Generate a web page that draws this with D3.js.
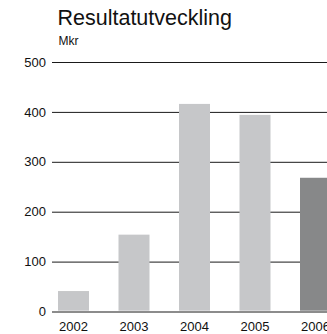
<!DOCTYPE html>
<html>
<head>
<meta charset="utf-8">
<script src="https://cdn.jsdelivr.net/npm/d3@7"></script>
<style>
  html, body { margin: 0; padding: 0; background: #fff; }
  svg { display: block; font-family: "Liberation Sans", Arial, Helvetica, sans-serif; }
</style>
</head>
<body>
<svg id="chart" width="327" height="334"></svg>
<script>
// Annual result, MSEK
const years = ["2002", "2003", "2004", "2005", "2006"];
const results = [41, 154, 416, 394, 268];
const highlightYear = "2006";
const yTicks = [0, 100, 200, 300, 400, 500];

const svg = d3.select("#chart");
const W = 327, H = 334;
const FONT = "\"Liberation Sans\", Arial, Helvetica, sans-serif";

const x = d3.scaleBand()
  .domain(years)
  .range([58, 331])
  .paddingInner(0.4876)
  .paddingOuter(0);

const y = d3.scaleLinear()
  .domain([0, 500])
  .range([311.5, 62]);

// Title and unit
svg.append("text")
  .attr("x", 57.5).attr("y", 25)
  .attr("font-size", 21.5)
  .attr("fill", "#111")
  .text("Resultatutveckling");
svg.append("text")
  .attr("x", 58.5).attr("y", 44.5)
  .attr("font-size", 12)
  .attr("fill", "#111")
  .text("Mkr");

// Horizontal gridlines with value labels
const yAxis = d3.axisLeft(y)
  .tickValues(yTicks)
  .tickSize(-(W - 52))
  .tickPadding(6);

const gy = svg.append("g")
  .attr("transform", "translate(52,0)")
  .call(yAxis);
gy.select(".domain").remove();
gy.selectAll(".tick line")
  .attr("stroke", d => d === 0 ? "#666" : "#1a1a1a")
  .attr("stroke-width", d => d === 0 ? 1.6 : 1);
gy.selectAll(".tick text")
  .attr("font-size", 13)
  .attr("fill", "#111")
  .attr("font-family", FONT);

// Bars
svg.append("g")
  .selectAll("rect")
  .data(years.map((yr, i) => ({ yr, v: results[i] })))
  .join("rect")
  .attr("x", d => x(d.yr))
  .attr("width", x.bandwidth())
  .attr("y", d => y(d.v))
  .attr("height", d => y(0) - y(d.v) - 0.8)
  .attr("fill", d => d.yr === highlightYear ? "#878889" : "#c6c7c9");

// Year labels
const xAxis = d3.axisBottom(x).tickSize(0).tickPadding(9.5);
const gx = svg.append("g")
  .attr("transform", `translate(0,${y(0) + 1})`)
  .call(xAxis);
gx.select(".domain").remove();
gx.selectAll(".tick text")
  .attr("font-size", 13)
  .attr("fill", "#111")
  .attr("font-family", FONT);
</script>
</body>
</html>
